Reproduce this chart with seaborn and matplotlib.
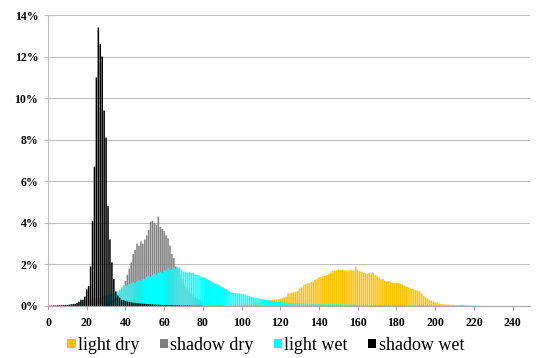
import pandas as pd
import matplotlib
matplotlib.use("Agg")
import matplotlib.pyplot as plt
import seaborn as sns
from matplotlib.patches import Patch

# percent of pixels per grey level, each series starts at its own bin
shadow_wet_start = 0
shadow_wet = [0.01, 0.01, 0.01, 0.02, 0.02, 0.02, 0.03, 0.03, 0.04, 0.05,
              0.05, 0.06, 0.08, 0.09, 0.1, 0.15, 0.2, 0.3, 0.3, 0.45,
              0.8, 0.95, 1.9, 4.1, 6.7, 11.0, 13.4, 12.6, 12.0, 9.4,
              8.1, 4.8, 3.2, 2.1, 1.3, 0.7, 0.5, 0.4, 0.3, 0.28,
              0.25, 0.22, 0.2, 0.18, 0.16, 0.15, 0.14, 0.13, 0.12, 0.11,
              0.1, 0.09, 0.09, 0.08, 0.08, 0.07, 0.07, 0.06, 0.06, 0.05,
              0.05, 0.05, 0.04, 0.04, 0.04, 0.03, 0.03, 0.03, 0.03, 0.02,
              0.02, 0.02, 0.02, 0.02, 0.01, 0.01, 0.01, 0.01, 0.01, 0.01]

shadow_dry_start = 30
shadow_dry = [0.1, 0.15, 0.2, 0.3, 0.4, 0.5, 0.6, 0.7, 0.8, 0.9,
              1.2, 1.5, 1.8, 2.1, 2.5, 2.7, 3.0, 2.9, 3.1, 3.0,
              3.2, 3.4, 3.65, 4.05, 4.1, 4.0, 3.9, 4.3, 3.8, 3.7,
              3.6, 3.4, 3.25, 2.9, 2.5, 2.3, 1.9, 1.8, 1.5, 1.3,
              1.1, 0.95, 0.8, 0.7, 0.6, 0.5, 0.42, 0.35, 0.3, 0.25,
              0.2, 0.18, 0.16, 0.14, 0.12, 0.1, 0.09, 0.08, 0.07, 0.06, 0.05]

light_wet_start = 0
light_wet = [0.02, 0.02, 0.03, 0.03, 0.03, 0.04, 0.04, 0.05, 0.05, 0.06,
             0.06, 0.07, 0.08, 0.09, 0.1, 0.12, 0.14, 0.16, 0.2, 0.22,
             0.25, 0.28, 0.3, 0.33, 0.36, 0.38, 0.4, 0.42, 0.45, 0.48,
             0.5, 0.52, 0.55, 0.58, 0.62, 0.65, 0.7, 0.8, 0.9, 1.0,
             0.98, 1.0, 1.05, 1.1, 1.15, 1.1, 1.2, 1.25, 1.2, 1.3,
             1.3, 1.4, 1.45, 1.4, 1.5, 1.55, 1.5, 1.6, 1.65, 1.6,
             1.72, 1.7, 1.82, 1.78, 1.75, 1.85, 1.8, 1.88, 1.85, 1.7,
             1.65, 1.62, 1.6, 1.63, 1.58, 1.6, 1.52, 1.5, 1.48, 1.42,
             1.38, 1.35, 1.3, 1.25, 1.2, 1.12, 1.08, 1.05, 1.0, 0.95,
             0.9, 0.85, 0.8, 0.72, 0.68, 0.65, 0.63, 0.62, 0.6, 0.6,
             0.58, 0.57, 0.55, 0.5, 0.48, 0.45, 0.42, 0.4, 0.38, 0.36,
             0.33, 0.32, 0.3, 0.29, 0.27, 0.25, 0.24, 0.22, 0.2, 0.19,
             0.18, 0.17, 0.16, 0.16, 0.15, 0.15, 0.14, 0.14, 0.13, 0.13,
             0.13, 0.12, 0.12, 0.11, 0.11, 0.1, 0.1, 0.1, 0.09, 0.09,
             0.09, 0.08, 0.08, 0.08, 0.08, 0.08, 0.08, 0.08, 0.08, 0.08,
             0.08, 0.07, 0.07, 0.07, 0.07, 0.07, 0.07, 0.07, 0.06, 0.06,
             0.06, 0.06, 0.06, 0.06, 0.06, 0.05, 0.05, 0.05, 0.05, 0.05,
             0.05, 0.05, 0.05, 0.05, 0.05, 0.04, 0.04, 0.04, 0.04, 0.04,
             0.04, 0.04, 0.04, 0.04, 0.04, 0.04, 0.04, 0.03, 0.03, 0.03,
             0.03, 0.03, 0.03, 0.03, 0.03, 0.03, 0.03, 0.03, 0.03, 0.03,
             0.03, 0.03, 0.02, 0.02, 0.02, 0.02, 0.02, 0.02, 0.02, 0.02, 0.02]

light_dry_start = 100
light_dry = [0.05, 0.06, 0.07, 0.08, 0.09, 0.1, 0.12, 0.14, 0.16, 0.18,
             0.2, 0.22, 0.24, 0.26, 0.27, 0.28, 0.29, 0.3, 0.31, 0.32,
             0.35, 0.38, 0.42, 0.45, 0.62, 0.6, 0.64, 0.66, 0.69, 0.72,
             0.85, 0.9, 0.98, 1.05, 1.09, 1.1, 1.15, 1.17, 1.25, 1.3,
             1.38, 1.4, 1.42, 1.45, 1.49, 1.55, 1.6, 1.7, 1.7, 1.72,
             1.76, 1.74, 1.75, 1.7, 1.72, 1.7, 1.75, 1.72, 1.7, 1.89,
             1.72, 1.68, 1.65, 1.6, 1.58, 1.54, 1.6, 1.56, 1.6, 1.48,
             1.45, 1.35, 1.28, 1.3, 1.22, 1.17, 1.2, 1.15, 1.12, 1.09,
             1.12, 1.1, 1.06, 1.02, 0.96, 0.92, 0.9, 0.85, 0.82, 0.8,
             0.77, 0.74, 0.69, 0.6, 0.48, 0.42, 0.37, 0.3, 0.26, 0.21,
             0.18, 0.16, 0.12, 0.1, 0.08, 0.07, 0.06, 0.06, 0.05, 0.05,
             0.05, 0.05, 0.04, 0.04, 0.04, 0.03, 0.03, 0.03, 0.03, 0.02, 0.02]

# drawing order = Excel series order, later ones sit on top
series = [
    ("light dry", light_dry_start, light_dry, "#FFC000"),
    ("shadow dry", shadow_dry_start, shadow_dry, "#808080"),
    ("light wet", light_wet_start, light_wet, "#00FFFF"),
    ("shadow wet", shadow_wet_start, shadow_wet, "#000000"),
]

plt.rcParams['font.family'] = ['Liberation Serif', 'DejaVu Serif']

fig = plt.figure(figsize=(5.37, 3.58), dpi=100)
ax = fig.add_axes([0.0894, 0.1453, 0.8976, 0.8128])

handles = []
for name, start, vals, color in series:
    df = pd.DataFrame({'bin': list(range(start, start + len(vals))), 'pct': vals})
    sns.barplot(x='bin', y='pct', data=df, color=color, saturation=1, width=0.8,
                native_scale=True, errorbar=None, linewidth=0, edgecolor='none', ax=ax)
    handles.append(Patch(facecolor=color, edgecolor='none', label=name))

# bars are ~1 px wide; pixel snapping drops some of them
for p in ax.patches:
    p.set_snap(False)

ax.set_xlim(0, 249)
ax.set_ylim(0, 14)
ax.set_xticks(range(0, 241, 20))
ax.set_xticklabels([str(v) for v in range(0, 241, 20)])
ax.set_yticks(range(0, 15, 2))
ax.set_yticklabels([f"{v}%" for v in range(0, 15, 2)])
ax.set_xlabel('')
ax.set_ylabel('')

ax.grid(axis='y', color='#BEBEBE', linewidth=0.8)
ax.set_axisbelow(True)
for side in ['top', 'right']:
    ax.spines[side].set_visible(False)
ax.spines['left'].set_color('#BEBEBE')
ax.spines['bottom'].set_color('#A6A6A6')
ax.spines['left'].set_linewidth(0.8)
ax.spines['bottom'].set_linewidth(0.8)

ax.tick_params(axis='x', length=3, color='#A6A6A6', pad=5, labelsize=8.5)
ax.tick_params(axis='y', length=3, color='#BEBEBE', pad=4, labelsize=8.5)
for lbl in ax.get_xticklabels() + ax.get_yticklabels():
    lbl.set_fontweight('bold')

fig.legend(handles=handles, loc='center', bbox_to_anchor=(0.495, 0.035), ncol=4,
           frameon=False, fontsize=13, handlelength=0.45, handleheight=0.45,
           handletextpad=0.15, columnspacing=1.1, borderaxespad=0)

fig.savefig('out.png', dpi=100)
